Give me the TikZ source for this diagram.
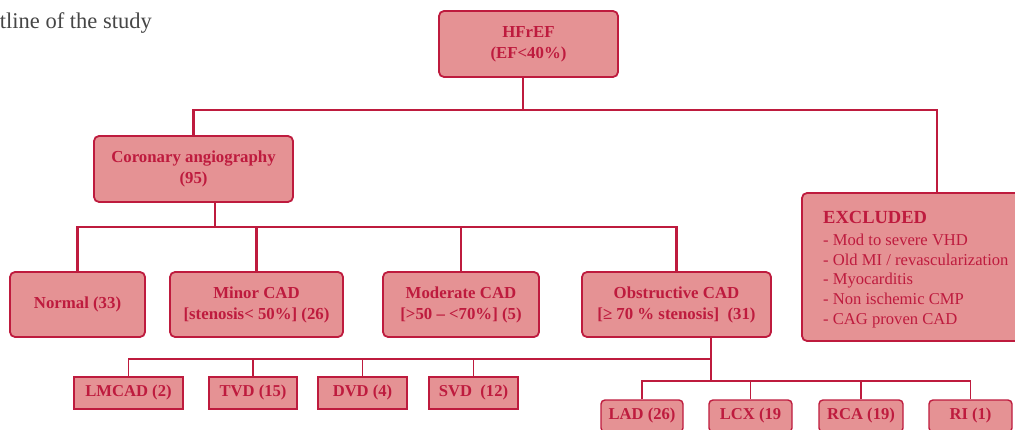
\documentclass[tikz,border=0pt]{standalone}
\usepackage{fontspec}
\setmainfont{Liberation Serif}
\definecolor{crim}{RGB}{190,27,62}
\definecolor{boxfill}{RGB}{229,146,148}
\definecolor{titlegray}{RGB}{70,70,70}
\begin{document}
\begin{tikzpicture}[x=1pt,y=-1pt,
 box/.style={draw=crim, fill=boxfill, line width=1.8pt, rounded corners=5pt, text=crim,
   font=\fontsize{16.8}{21}\selectfont\bfseries, align=center, inner sep=0pt, minimum height=65},
 sbox/.style={draw=crim, fill=boxfill, line width=1.4pt, text=crim,
   font=\fontsize{16.6}{20}\selectfont\bfseries, inner sep=0pt, minimum height=32},
 rbox/.style={sbox, rounded corners=4pt},
 conn/.style={draw=crim, line width=2.4pt},
 thinconn/.style={draw=crim, line width=1.3pt}]
\clip (0,0) rectangle (1015,430);

\node[text=titlegray, font=\fontsize{22.5}{26}\selectfont, anchor=base east, inner sep=0pt] (title) at (152,28.5) {tline of the study};

\node[box, minimum width=179, minimum height=66] (hf) at (528.5,44) {HFrEF\\(EF<40\%)};
\node[box, minimum width=199, minimum height=66] (ca) at (193.5,169) {Coronary angiography\\(95)};
\node[box, minimum width=270, minimum height=148] (ex) at (937,267) {};
\node[anchor=north west, inner sep=0pt, align=left, text=crim, font=\fontsize{16.6}{19.7}\selectfont] (extext) at (823,211)
 {{\fontsize{18.5}{19.7}\selectfont\bfseries EXCLUDED}\\[2.3pt]
  - Mod to severe VHD\\
  - Old MI / revascularization\\
  - Myocarditis\\
  - Non ischemic CMP\\
  - CAG proven CAD};

\node[box, minimum width=135] (normal) at (77.5,304.5) {Normal (33)};
\node[box, minimum width=173] (minor) at (256.5,304.5) {Minor CAD\\{[}stenosis< 50\%] (26)};
\node[box, minimum width=156] (mod) at (461,304.5) {Moderate CAD\\{[}>50 – <70\%] (5)};
\node[box, minimum width=189] (obs) at (676.5,304.5) {Obstructive CAD\\{[}≥ 70 \% stenosis]~ (31)};

\node[sbox, minimum width=109] (lmcad) at (128.5,393) {LMCAD (2)};
\node[sbox, minimum width=88] (tvd) at (253,393) {TVD (15)};
\node[sbox, minimum width=89] (dvd) at (362.5,393) {DVD (4)};
\node[sbox, minimum width=89] (svd) at (473.5,393) {SVD~ (12)};

\node[rbox, minimum width=82] (lad) at (642,416) {LAD (26)};
\node[rbox, minimum width=83] (lcx) at (750.5,416) {LCX (19};
\node[rbox, minimum width=84] (rca) at (861,416) {RCA (19)};
\node[rbox, minimum width=83] (ri) at (970.5,416) {RI (1)};

\coordinate (b1) at (523,110);
\coordinate (b2) at (215,227);
\coordinate (b3) at (711,359);
\coordinate (b4) at (711,381);

\draw[conn] ([xshift=-5.5]hf.south) -- (b1);
\draw[conn] (ca.north) |- (b1) -| (ex.north);
\draw[conn] ([xshift=21.5]ca.south) -- (b2);
\draw[conn] (normal.north) |- (b2) -| (obs.north);
\draw[conn] (minor.north) -- (minor.north |- b2);
\draw[conn] (mod.north) -- (mod.north |- b2);

\draw[thinconn] ([xshift=34.5]obs.south) -- (b4);
\draw[thinconn] (lmcad.north) |- (b3);
\draw[thinconn] (tvd.north) -- (tvd.north |- b3);
\draw[thinconn] (dvd.north) -- (dvd.north |- b3);
\draw[thinconn] (svd.north) -- (svd.north |- b3);
\draw[thinconn] (lad.north) |- (b4) -| (ri.north);
\draw[thinconn] (lcx.north) -- (lcx.north |- b4);
\draw[thinconn] (rca.north) -- (rca.north |- b4);
\end{tikzpicture}
\end{document}
